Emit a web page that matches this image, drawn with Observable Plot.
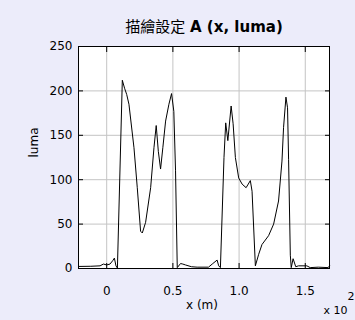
<!DOCTYPE html>
<html><head><meta charset="utf-8">
<script src="https://cdn.jsdelivr.net/npm/d3@7"></script>
<script src="https://cdn.jsdelivr.net/npm/@observablehq/plot@0.6"></script>
<style>
html,body{margin:0;padding:0;background:#ececfa;}
#wrap{position:relative;width:355px;height:320px;overflow:hidden;}
#title{position:absolute;left:78px;width:252px;top:17px;line-height:18px;text-align:center;font-size:15px;font-family:"DejaVu Sans","Noto Sans CJK TC",sans-serif;color:#000;white-space:nowrap;}
#title .cjk{font-family:"Noto Sans CJK TC",sans-serif;font-weight:normal;}
#title b{font-weight:bold;}
</style></head><body>
<div id="wrap"><div id="title"><span class="cjk">描繪設定</span> <b>A (x, luma)</b></div></div>
<script>
const xMeters = [-21.3,-12,-5.0,-2.5,0,2.5,4.5,5.8,7.0,8.1,11.8,13.5,15.1,16.8,20.6,23.1,25.6,26.9,29.4,33.2,35.7,37.4,39.0,40.7,42.4,44.5,47.0,49.0,50.7,52.0,53.3,55.8,57.5,59.5,64.0,68.3,76.9,79.7,83.4,84.6,85.9,88.6,89.9,91.5,94.0,95.5,97.2,99.7,102.3,105.3,108.5,109.8,112.3,114.8,117.3,122.3,126.1,129.8,132.4,133.6,135.4,136.6,137.4,138.7,139.4,140.8,142.8,144.9,151.2,153.7,159.8,167.3,168.3];
const luma = [2.3,2.5,3,5,4,5,8.7,11.7,3,0.5,212,203,196,185,136,91,42,40,52,91,136,161,132,112,136,166,185,197,177,110,1,5.6,5,4,2,1.5,1.5,5,9.5,3,1,125,164,144,183,163,125,102,95,91,99,87,3,16,27,37,50,76,121,159,193,181,123,15,1,11,2,3,3,1,1.5,1,3];
const xTicks = [0,50,100,150];
const yTicks = [0,50,100,150,200,250];
const xTickLabels = ["0","0.5","1.0","1.5"];
const xLabel = "x (m)";
const yLabel = "luma";
const expBase = "x 10";
const expPow = "2";

const data = xMeters.map((x, i) => ({x, y: luma[i]}));
const grid = "#c4c4c4";
const chart = Plot.plot({
  width: 355, height: 320,
  marginLeft: 78, marginRight: 26, marginTop: 46, marginBottom: 52,
  style: {background: "transparent", fontFamily: "'DejaVu Sans', sans-serif", fontSize: "12px", color: "#000"},
  x: {domain: [-21.3, 168.3], label: null},
  y: {domain: [0, 250], label: null},
  marks: [
    Plot.frame({fill: "white"}),
    Plot.gridX(xTicks, {stroke: grid, strokeOpacity: 1}),
    Plot.gridY(yTicks, {stroke: grid, strokeOpacity: 1}),
    Plot.axisX(xTicks, {anchor: "bottom", tickSize: 0, tickPadding: 18, tickFormat: (d) => xTickLabels[xTicks.indexOf(d)], label: null, fontSize: 12}),
    Plot.axisY(yTicks, {anchor: "left", tickSize: 0, tickPadding: 6, label: null, fontSize: 12}),
    Plot.axisX(xTicks, {anchor: "bottom", tickSize: 5, dy: -5, fill: "none", label: null}),
    Plot.axisX(xTicks, {anchor: "top", tickSize: 5, dy: 5, fill: "none", label: null}),
    Plot.axisY(yTicks, {anchor: "left", tickSize: 5, dx: 5, fill: "none", label: null}),
    Plot.axisY(yTicks, {anchor: "right", tickSize: 5, dx: -5, fill: "none", label: null}),
    Plot.line(data, {x: "x", y: "y", stroke: "black", strokeWidth: 1}),
    Plot.frame({stroke: "black"}),
    Plot.text([yLabel], {frameAnchor: "left", rotate: -90, dx: -44, fontSize: 12}),
    Plot.text([xLabel], {frameAnchor: "bottom", dx: -2, dy: 40.5, fontSize: 12}),
    Plot.text([expBase], {frameAnchor: "bottom-right", textAnchor: "start", dx: -6, dy: 45.5, fontSize: 11}),
    Plot.text([expPow], {frameAnchor: "bottom-right", textAnchor: "start", dx: 18, dy: 31, fontSize: 11})
  ]
});
document.getElementById("wrap").appendChild(chart);
chart.style.position = "absolute";
chart.style.left = "0";
chart.style.top = "0";
</script>
</body></html>
